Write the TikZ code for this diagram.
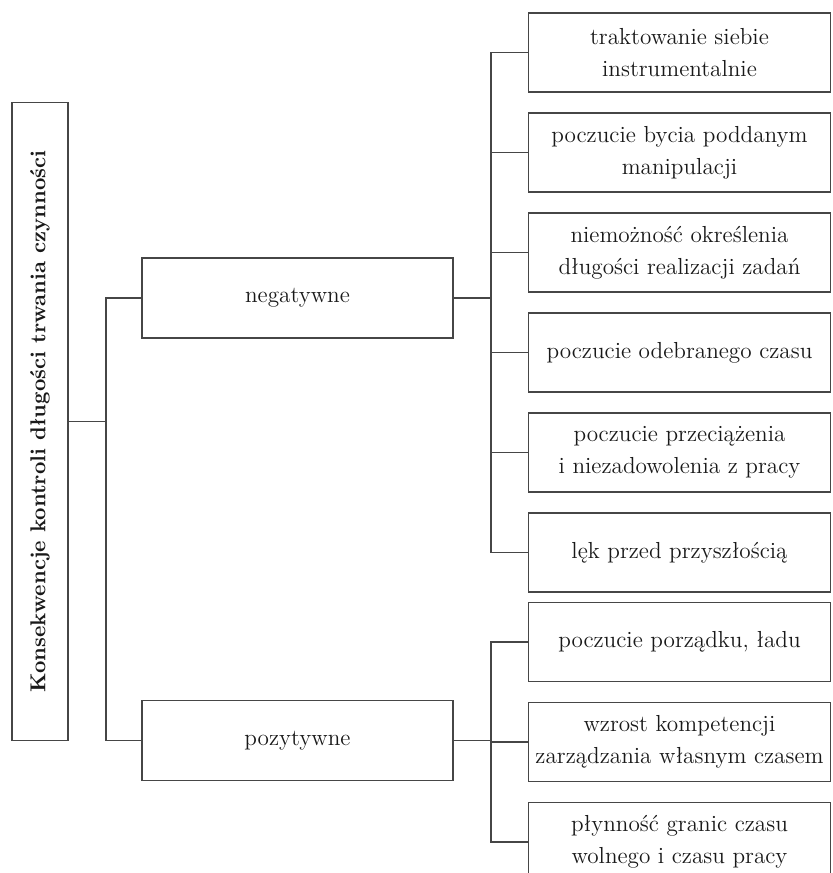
\documentclass[tikz,border=0pt]{standalone}
\usepackage{fontspec}
\usepackage{graphicx}
\usepackage{tikz}
\usetikzlibrary{positioning}
\definecolor{LineColor}{RGB}{70,70,70}
\definecolor{TextColor}{RGB}{25,25,25}

\begin{document}
\begin{tikzpicture}[x=0.5pt, y=-0.5pt, node distance=9.6pt, font=\fontsize{11.6}{16}\selectfont,
    box/.style={draw=LineColor, line width=0.9pt, text=TextColor, align=center, inner sep=0pt},
    leaf/.style={box, minimum width=151pt, minimum height=39.5pt},
    branch/.style={box, minimum width=155.5pt, minimum height=40pt},
    link/.style={draw=LineColor, line width=0.9pt}]
  \clip (0,0) rectangle (832,873);
  % root and the two branches
  \node[box, minimum width=28pt, minimum height=319pt] (root) at (40,421.5) {\rotatebox{90}{\fontsize{10.8}{13}\selectfont\bfseries Konsekwencje kontroli długości trwania czynności}};
  \node[branch] (neg) at (297.5,298) {negatywne};
  \node[branch] (poz) at (297.5,740.5) {pozytywne};
  % negative consequences
  \node[leaf] (n1) at (679.5,52.5) {traktowanie siebie\\instrumentalnie};
  \node[leaf, below=of n1] (n2) {poczucie bycia poddanym\\manipulacji};
  \node[leaf, below=of n2] (n3) {niemożność określenia\\długości realizacji zadań};
  \node[leaf, below=of n3] (n4) {poczucie odebranego czasu};
  \node[leaf, below=of n4] (n5) {poczucie przeciążenia\\i niezadowolenia z pracy};
  \node[leaf, below=of n5] (n6) {lęk przed przyszłością};
  % positive consequences
  \node[leaf] (p1) at (679.5,642) {poczucie porządku, ładu};
  \node[leaf, below=of p1] (p2) {wzrost kompetencji\\zarządzania własnym czasem};
  \node[leaf, below=of p2] (p3) {płynność granic czasu\\wolnego i czasu pracy};
  % connectors
  \coordinate (jr) at (106,421.5);
  \coordinate (jn) at (491,298);
  \coordinate (jp) at (491,740.5);
  \draw[link] (root.east) -- (jr);
  \draw[link] (neg.west) -| (jr) |- (poz.west);
  \draw[link] (neg.east) -- (jn);
  \draw[link] (n1.west) -| (jn) |- (n6.west);
  \draw[link] (jn) |- (n2.west);
  \draw[link] (jn) |- (n3.west);
  \draw[link] (jn) |- (n4.west);
  \draw[link] (jn) |- (n5.west);
  \draw[link] (poz.east) -- (jp);
  \draw[link] (p1.west) -| (jp) |- (p3.west);
  \draw[link] (jp) |- (p2.west);
\end{tikzpicture}
\end{document}
